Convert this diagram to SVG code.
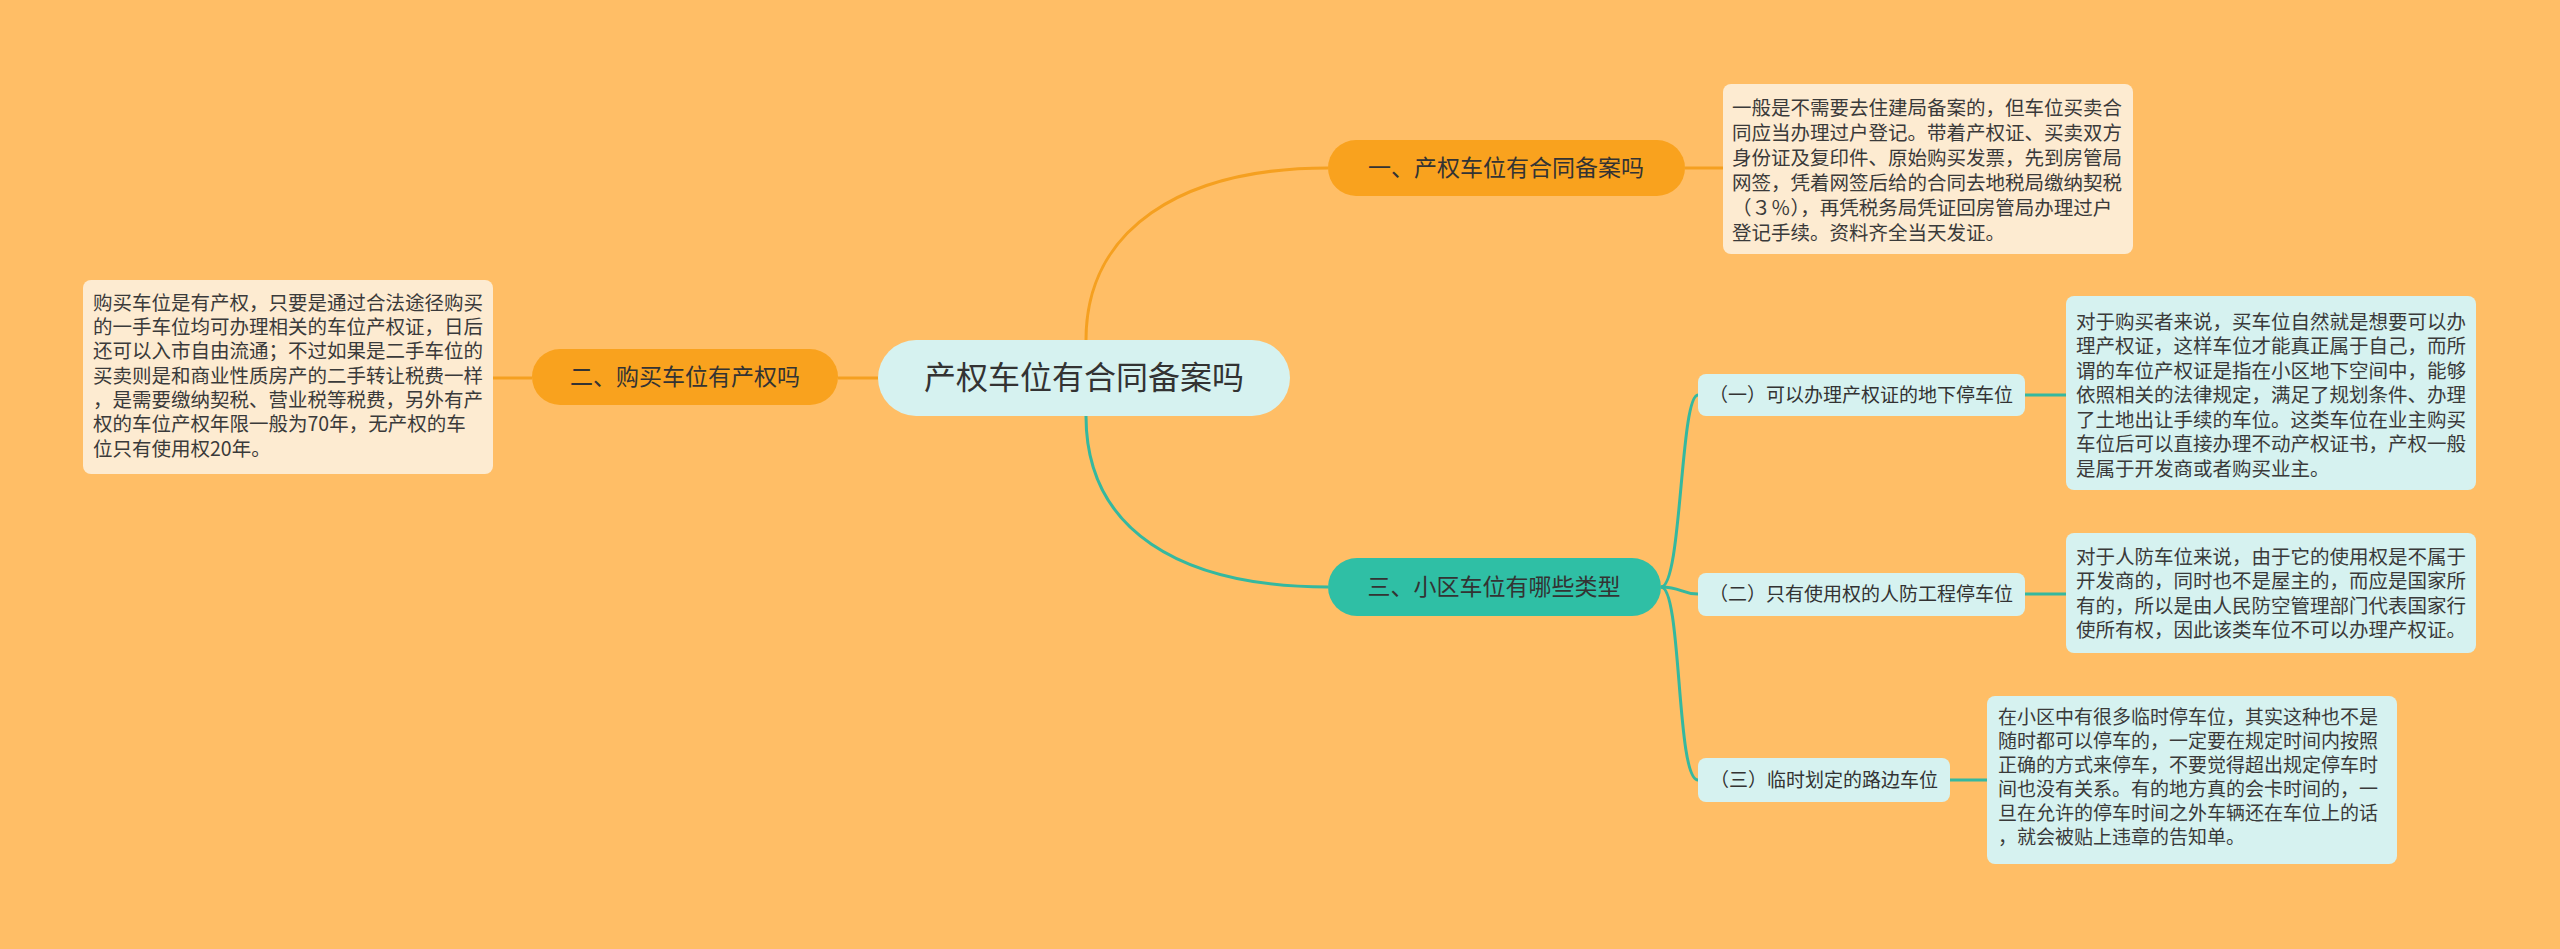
<svg xmlns="http://www.w3.org/2000/svg" width="2560" height="949" viewBox="0 0 2560 949">
<style>
text{font-family:"Noto Sans CJK SC","Liberation Sans",sans-serif;}
.t{font-size:19.5px;fill:#3a3a3a;}
.t3{font-size:19px;fill:#3a3a3a;}
.ob{fill:#fdebd1;}
.cb{fill:#d6f2f0;}
.oc{stroke:#f5a020;stroke-width:3;fill:none;}
.tc{stroke:#35b89f;stroke-width:3;fill:none;}
.n{font-size:23px;fill:#333;text-anchor:middle;}
.s{font-size:19px;fill:#333;text-anchor:middle;}
</style>
<rect width="2560" height="949" fill="#ffbe66"/>
<g id="connectors">
<path class="oc" d="M1086,340 C1086,230 1180,168 1328,168"/>
<path class="oc" d="M1685,168 L1723,168"/>
<path class="oc" d="M878,378 L838,378"/>
<path class="oc" d="M532,378 L493,378"/>
<path class="tc" d="M1086,416 C1086,530 1180,587 1328,587"/>
<path class="tc" d="M1661,587 C1682,587 1680,395 1698,395"/>
<path class="tc" d="M1661,587 C1682,587 1680,594 1698,594"/>
<path class="tc" d="M1661,587 C1682,587 1676,780 1698,780"/>
<path class="tc" d="M2025,395 L2066,395"/>
<path class="tc" d="M2025,594 L2066,594"/>
<path class="tc" d="M1950,780 L1987,780"/>
</g>
<g id="root">
<rect x="878" y="340" width="412" height="76" rx="38" fill="#d6f2f0"/>
<text x="1084" y="389" font-size="32" fill="#333" text-anchor="middle">产权车位有合同备案吗</text>
</g>
<g id="n1">
<rect x="1328" y="140" width="357" height="56" rx="28" fill="#f9a21e"/>
<text class="n" x="1506" y="176">一、产权车位有合同备案吗</text>
</g>
<g id="n1text">
<rect class="ob" x="1723" y="84" width="410" height="170" rx="8"/>
<text class="t" x="1732" y="115">一般是不需要去住建局备案的，但车位买卖合</text>
<text class="t" x="1732" y="140">同应当办理过户登记。带着产权证、买卖双方</text>
<text class="t" x="1732" y="165">身份证及复印件、原始购买发票，先到房管局</text>
<text class="t" x="1732" y="190">网签，凭着网签后给的合同去地税局缴纳契税</text>
<text class="t" x="1732" y="215">（３％），再凭税务局凭证回房管局办理过户</text>
<text class="t" x="1732" y="240">登记手续。资料齐全当天发证。</text>
</g>
<g id="n2">
<rect x="532" y="349" width="306" height="56" rx="28" fill="#f9a21e"/>
<text class="n" x="685" y="385">二、购买车位有产权吗</text>
</g>
<g id="n2text">
<rect class="ob" x="83" y="280" width="410" height="194" rx="8"/>
<text class="t" x="93" y="310">购买车位是有产权，只要是通过合法途径购买</text>
<text class="t" x="93" y="334">的一手车位均可办理相关的车位产权证，日后</text>
<text class="t" x="93" y="358">还可以入市自由流通；不过如果是二手车位的</text>
<text class="t" x="93" y="383">买卖则是和商业性质房产的二手转让税费一样</text>
<text class="t" x="93" y="407">，是需要缴纳契税、营业税等税费，另外有产</text>
<text class="t" x="93" y="431">权的车位产权年限一般为70年，无产权的车</text>
<text class="t" x="93" y="456">位只有使用权20年。</text>
</g>
<g id="n3">
<rect x="1328" y="558" width="333" height="58" rx="29" fill="#2fbfa5"/>
<text class="n" x="1494" y="595">三、小区车位有哪些类型</text>
</g>
<g id="s1">
<rect class="cb" x="1698" y="374" width="327" height="42" rx="8"/>
<text class="s" x="1861" y="402">（一）可以办理产权证的地下停车位</text>
</g>
<g id="s1text">
<rect class="cb" x="2066" y="296" width="410" height="194" rx="8"/>
<text class="t" x="2076" y="329">对于购买者来说，买车位自然就是想要可以办</text>
<text class="t" x="2076" y="353">理产权证，这样车位才能真正属于自己，而所</text>
<text class="t" x="2076" y="378">谓的车位产权证是指在小区地下空间中，能够</text>
<text class="t" x="2076" y="402">依照相关的法律规定，满足了规划条件、办理</text>
<text class="t" x="2076" y="427">了土地出让手续的车位。这类车位在业主购买</text>
<text class="t" x="2076" y="451">车位后可以直接办理不动产权证书，产权一般</text>
<text class="t" x="2076" y="476">是属于开发商或者购买业主。</text>
</g>
<g id="s2">
<rect class="cb" x="1698" y="573" width="327" height="43" rx="8"/>
<text class="s" x="1861" y="601">（二）只有使用权的人防工程停车位</text>
</g>
<g id="s2text">
<rect class="cb" x="2066" y="533" width="410" height="120" rx="8"/>
<text class="t" x="2076" y="564">对于人防车位来说，由于它的使用权是不属于</text>
<text class="t" x="2076" y="588">开发商的，同时也不是屋主的，而应是国家所</text>
<text class="t" x="2076" y="613">有的，所以是由人民防空管理部门代表国家行</text>
<text class="t" x="2076" y="637">使所有权，因此该类车位不可以办理产权证。</text>
</g>
<g id="s3">
<rect class="cb" x="1698" y="758" width="252" height="44" rx="8"/>
<text class="s" x="1824" y="787">（三）临时划定的路边车位</text>
</g>
<g id="s3text">
<rect class="cb" x="1987" y="696" width="410" height="168" rx="8"/>
<text class="t3" x="1998" y="724">在小区中有很多临时停车位，其实这种也不是</text>
<text class="t3" x="1998" y="748">随时都可以停车的，一定要在规定时间内按照</text>
<text class="t3" x="1998" y="772">正确的方式来停车，不要觉得超出规定停车时</text>
<text class="t3" x="1998" y="796">间也没有关系。有的地方真的会卡时间的，一</text>
<text class="t3" x="1998" y="820">旦在允许的停车时间之外车辆还在车位上的话</text>
<text class="t3" x="1998" y="844">，就会被贴上违章的告知单。</text>
</g>
</svg>
